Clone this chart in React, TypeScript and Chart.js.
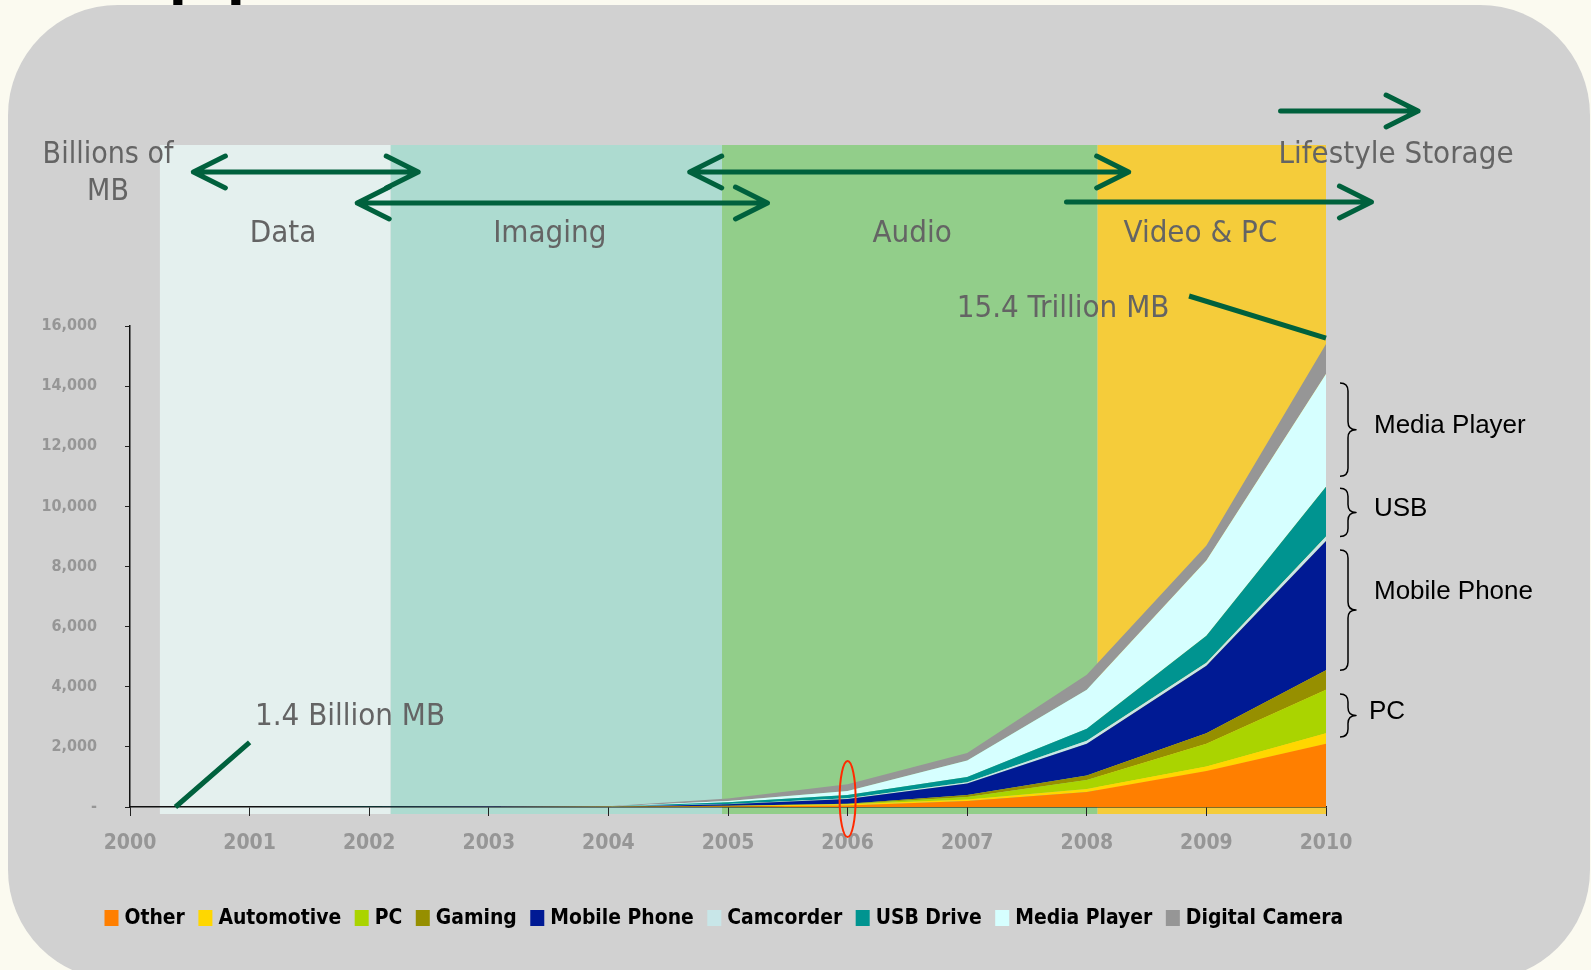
import React, { useEffect, useRef } from 'react';
import { Chart, registerables } from 'chart.js';

Chart.register(...registerables);

// ---------- data (billions of MB) ----------
const years = ['2000', '2001', '2002', '2003', '2004', '2005', '2006', '2007', '2008', '2009', '2010'];
const seriesNames = ['Other', 'Automotive', 'PC', 'Gaming', 'Mobile Phone', 'Camcorder', 'USB Drive', 'Media Player', 'Digital Camera'];
const seriesColors = ['#FF7F00', '#FFD700', '#AAD400', '#968F00', '#001A94', '#C8E6E8', '#009490', '#D6FFFF', '#969696'];

const otherVals = [0.3, 0.5, 1, 2, 4, 15, 50, 200, 500, 1200, 2100];
const automotiveVals = [0, 0.1, 0.2, 0.5, 1, 15, 40, 50, 100, 150, 350];
const pcVals = [0.2, 0.3, 0.5, 1, 1, 5, 10, 80, 300, 750, 1450];
const gamingVals = [0.1, 0.2, 0.3, 0.5, 1, 5, 10, 70, 150, 350, 650];
const mobileVals = [0.1, 0.3, 1, 3, 5, 50, 160, 380, 1050, 2250, 4300];
const camcorderVals = [0, 0.1, 0.2, 0.5, 1, 10, 20, 40, 100, 100, 150];
const usbVals = [0.2, 0.4, 1, 2, 3, 60, 110, 180, 400, 900, 1650];
const mediaVals = [0.2, 0.5, 1, 3, 4, 40, 130, 550, 1300, 2500, 3750];
const cameraVals = [0.3, 0.8, 2, 5, 5, 80, 230, 250, 500, 500, 1000];

const seriesValues = [otherVals, automotiveVals, pcVals, gamingVals, mobileVals, camcorderVals, usbVals, mediaVals, cameraVals];

const yTicks = [0, 2000, 4000, 6000, 8000, 10000, 12000, 14000, 16000];

// phases (background bands), in years
const phaseNames = ['Data', 'Imaging', 'Audio', 'Video & PC'];
const phaseEdges = [2000.25, 2002.18, 2004.95, 2008.09, 2010];
const phaseLabelYears = [2001.28, 2003.51, 2006.54, 2008.95];
const phaseColors = ['#E4F0EE', '#ADDBD0', '#92CE8A', '#F5CC3A'];

// right-hand braces: label, value range
const braceLabels = ['Media Player', 'USB', 'Mobile Phone', 'PC'];
const braceLow = [11000, 9000, 4550, 2330];
const braceHigh = [14100, 10600, 8550, 3760];

const FONT_C = "'DejaVu Sans Condensed', 'DejaVu Sans', sans-serif";
const FONT_A = "'Liberation Sans', Arial, sans-serif";
const GREEN = '#00613D';
const GRAY_TXT = '#646464';

function drawArrow(ctx: CanvasRenderingContext2D, x1: number, x2: number, y: number, both: boolean) {
  ctx.beginPath();
  ctx.moveTo(x1, y);
  ctx.lineTo(x2, y);
  ctx.moveTo(x2 - 32, y - 16);
  ctx.lineTo(x2, y);
  ctx.lineTo(x2 - 32, y + 16);
  if (both) {
    ctx.moveTo(x1 + 32, y - 16);
    ctx.lineTo(x1, y);
    ctx.lineTo(x1 + 32, y + 16);
  }
  ctx.stroke();
}

function drawBrace(ctx: CanvasRenderingContext2D, x0: number, y0: number, y1: number) {
  const xm = x0 + 8;
  const x1 = x0 + 16;
  const r = 8;
  const mid = (y0 + y1) / 2;
  ctx.beginPath();
  ctx.moveTo(x0, y0);
  ctx.quadraticCurveTo(xm, y0, xm, y0 + r);
  ctx.lineTo(xm, mid - r);
  ctx.quadraticCurveTo(xm, mid, x1, mid);
  ctx.quadraticCurveTo(xm, mid, xm, mid + r);
  ctx.lineTo(xm, y1 - r);
  ctx.quadraticCurveTo(xm, y1, x0, y1);
  ctx.stroke();
}

const decorPlugin = {
  id: 'decor',
  beforeDraw(chart: any) {
    const { ctx } = chart;
    const W = chart.width;
    const H = chart.height;
    const xs = chart.scales.x;
    ctx.save();
    ctx.fillStyle = '#FBFAF0';
    ctx.fillRect(0, 0, W, H);
    // cut-off slide title
    ctx.fillStyle = '#000';
    ctx.font = `104px ${FONT_A}`;
    ctx.textAlign = 'left';
    ctx.textBaseline = 'alphabetic';
    ctx.fillText('Applications', 97, -15);
    // panel
    ctx.fillStyle = '#D1D1D1';
    ctx.beginPath();
    ctx.roundRect(8, 5, 1582, 975, 110);
    ctx.fill();
    // phase bands
    const bandTop = 145;
    const bandBottom = 814;
    phaseNames.forEach((name, i) => {
      const x0 = xs.getPixelForValue(phaseEdges[i] - 2000);
      const x1 = xs.getPixelForValue(phaseEdges[i + 1] - 2000);
      ctx.fillStyle = phaseColors[i];
      ctx.fillRect(x0, bandTop, x1 - x0, bandBottom - bandTop);
    });
    ctx.font = `31px ${FONT_C}`;
    ctx.textAlign = 'center';
    ctx.textBaseline = 'middle';
    ctx.fillStyle = GRAY_TXT;
    phaseNames.forEach((name, i) => {
      ctx.fillText(name, xs.getPixelForValue(phaseLabelYears[i] - 2000), 234);
    });
    ctx.restore();
  },
  afterDraw(chart: any) {
    const { ctx } = chart;
    const xs = chart.scales.x;
    const ys = chart.scales.y;
    const px = (yr: number) => xs.getPixelForValue(yr - 2000);
    ctx.save();

    // gray annotation texts
    ctx.fillStyle = GRAY_TXT;
    ctx.textAlign = 'center';
    ctx.textBaseline = 'middle';
    ctx.font = `30px ${FONT_C}`;
    ctx.fillText('Billions of', 108, 155);
    ctx.fillText('MB', 108, 192);
    ctx.font = `31px ${FONT_C}`;
    ctx.fillText('Lifestyle Storage', 1396, 155);
    ctx.fillText('15.4 Trillion MB', 1063, 309);
    ctx.fillText('1.4 Billion MB', 350, 717);

    // arrows
    ctx.strokeStyle = GREEN;
    ctx.lineWidth = 5;
    ctx.lineCap = 'round';
    ctx.lineJoin = 'round';
    drawArrow(ctx, px(2000.53), px(2002.41), 172, true);
    drawArrow(ctx, px(2001.9), px(2005.33), 203, true);
    drawArrow(ctx, px(2004.68), px(2008.35), 172, true);
    drawArrow(ctx, px(2007.83), px(2010.38), 202, false);
    drawArrow(ctx, px(2009.62), px(2010.77), 111, false);

    // leader lines
    ctx.lineCap = 'butt';
    ctx.beginPath();
    ctx.moveTo(px(2008.855), 296);
    ctx.lineTo(px(2010), ys.getPixelForValue(15600));
    ctx.moveTo(px(2000.38), ys.getPixelForValue(0));
    ctx.lineTo(px(2001.0), ys.getPixelForValue(2150));
    ctx.stroke();

    // red ellipse at 2006
    ctx.strokeStyle = '#FF2A00';
    ctx.lineWidth = 2;
    ctx.beginPath();
    ctx.ellipse(px(2006), 799, 8, 38, 0, 0, Math.PI * 2);
    ctx.stroke();

    // braces
    ctx.strokeStyle = '#000';
    ctx.lineWidth = 1.5;
    ctx.fillStyle = '#000';
    ctx.font = `26px ${FONT_A}`;
    ctx.textAlign = 'left';
    ctx.textBaseline = 'middle';
    const bx = xs.right + 14;
    braceLabels.forEach((lab, i) => {
      const y0 = ys.getPixelForValue(braceHigh[i]);
      const y1 = ys.getPixelForValue(braceLow[i]);
      drawBrace(ctx, bx, y0, y1);
      const off = lab === 'Mobile Phone' ? -18 : -4;
      ctx.fillText(lab, lab === 'PC' ? bx + 29 : bx + 34, (y0 + y1) / 2 + off);
    });

    // legend
    ctx.font = `bold 22px ${FONT_C}`;
    ctx.textBaseline = 'middle';
    const squeeze = 0.95;
    let lx = 104.5;
    seriesNames.forEach((name, i) => {
      ctx.fillStyle = seriesColors[i];
      ctx.fillRect(lx, 910, 14, 16);
      ctx.fillStyle = '#000';
      const tx = lx + 20;
      ctx.save();
      ctx.translate(tx, 918);
      ctx.scale(squeeze, 1);
      ctx.fillText(name, 0, 0);
      ctx.restore();
      lx = tx + ctx.measureText(name).width * squeeze + 13.5;
    });
    ctx.restore();
  },
};

export default function App() {
  const ref = useRef<HTMLCanvasElement>(null);
  useEffect(() => {
    document.body.style.margin = '0';
    const datasets = seriesNames.map((name, i) => ({
      label: name,
      data: seriesValues[i],
      backgroundColor: seriesColors[i],
      borderColor: seriesColors[i],
      borderWidth: 0,
      pointRadius: 0,
      tension: 0,
      fill: i === 0 ? 'origin' : '-1',
    }));
    const chart = new Chart(ref.current as HTMLCanvasElement, {
      type: 'line',
      data: { labels: years, datasets },
      plugins: [decorPlugin],
      options: {
        animation: false,
        responsive: false,
        maintainAspectRatio: false,
        layout: { padding: { left: 0, right: 265, top: 326, bottom: 113 } },
        plugins: { legend: { display: false }, tooltip: { enabled: false } },
        scales: {
          x: {
            offset: false,
            grid: { drawOnChartArea: false, tickLength: 9, color: '#222', lineWidth: 1 },
            border: { color: '#111', width: 1.5 },
            ticks: {
              color: '#969696',
              font: { family: FONT_C, size: 21, weight: 'bold' },
              padding: 15,
              maxRotation: 0,
              autoSkip: false,
            },
            afterFit: (s: any) => {
              s.height = 50;
            },
          },
          y: {
            stacked: true,
            min: 0,
            max: 16000,
            afterBuildTicks: (s: any) => {
              s.ticks = yTicks.map((v) => ({ value: v }));
            },
            grid: { drawOnChartArea: false, tickLength: 5, color: '#222', lineWidth: 1 },
            border: { color: '#111', width: 1.5 },
            ticks: {
              color: '#969696',
              font: { family: FONT_C, size: 16, weight: 'bold' },
              padding: 28,
              callback: (v: any) => (Number(v) === 0 ? '-' : Number(v).toLocaleString('en-US')),
            },
            afterFit: (s: any) => {
              s.width = 130;
            },
          },
        },
      } as any,
    });
    return () => chart.destroy();
  }, []);
  return <canvas ref={ref} width={1591} height={970} style={{ display: 'block', width: 1591, height: 970 }} />;
}
